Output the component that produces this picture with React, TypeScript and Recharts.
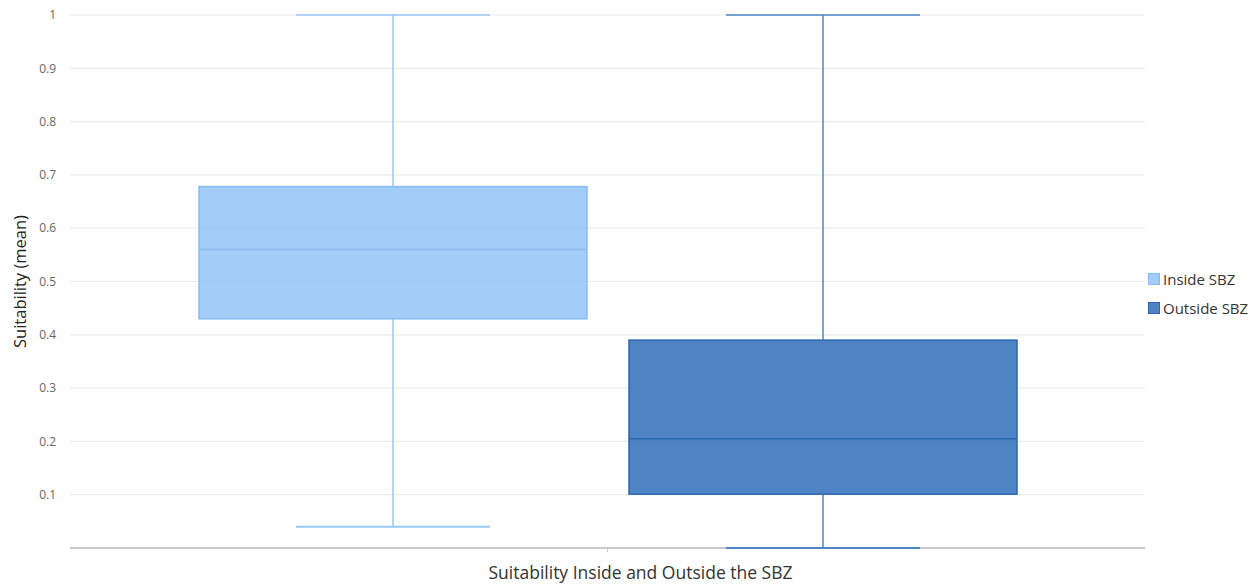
import React from 'react';
import { ComposedChart, Bar, XAxis, YAxis, CartesianGrid, Legend } from 'recharts';

const categories = ['Suitability Inside and Outside the SBZ'];
const seriesNames = ['Inside SBZ', 'Outside SBZ'];
const seriesKeys = ['inside', 'outside'];
const mins = [0.04, 0];
const q1s = [0.43, 0.101];
const medians = [0.56, 0.205];
const q3s = [0.678, 0.39];
const maxs = [1, 1];
const yTicks = [0.1, 0.2, 0.3, 0.4, 0.5, 0.6, 0.7, 0.8, 0.9, 1];

const fills = ['#8cc0f7', '#2f6fb8'];
const fillOpacity = [0.8, 0.85];
const strokes = ['#88baf3', '#2a66b1'];
const whiskerColors = ['#98c6f6', '#4d85c6'];
const legendFills = ['#a3cdf9', '#4e82c2'];

const data = categories.map((name) => {
  const row: any = { name };
  seriesKeys.forEach((k, i) => {
    row[k] = [q1s[i], q3s[i]];
  });
  return row;
});

const makeBox = (i: number) => (props: any) => {
  const { x, y, width, height } = props;
  if (x == null || y == null) return null;
  const top = Math.min(y, y + height);
  const h = Math.abs(height);
  const pxPer = h / (q3s[i] - q1s[i]);
  const py = (v: number) => top + (q3s[i] - v) * pxPer;
  const cx = x + width / 2;
  const capHalf = width / 4;
  const wc = whiskerColors[i];
  return (
    <g>
      <line x1={cx} x2={cx} y1={py(maxs[i])} y2={py(q3s[i])} stroke={wc} strokeWidth={1.5} />
      <line x1={cx} x2={cx} y1={py(q1s[i])} y2={py(mins[i])} stroke={wc} strokeWidth={1.5} />
      <line x1={cx - capHalf} x2={cx + capHalf} y1={py(maxs[i])} y2={py(maxs[i])} stroke={wc} strokeWidth={1.5} />
      <line x1={cx - capHalf} x2={cx + capHalf} y1={py(mins[i])} y2={py(mins[i])} stroke={wc} strokeWidth={2} />
      <rect x={x} y={top} width={width} height={h} fill={fills[i]} fillOpacity={fillOpacity[i]} stroke={strokes[i]} strokeWidth={1.5} />
      <line x1={x} x2={x + width} y1={py(medians[i])} y2={py(medians[i])} stroke={strokes[i]} strokeWidth={1.5} />
    </g>
  );
};

const LegendContent = () => (
  <div style={{ fontFamily: '"Open Sans", sans-serif', fontSize: 15, color: '#333' }}>
    {seriesNames.map((n, i) => (
      <div key={n} style={{ display: 'flex', alignItems: 'center', height: 29 }}>
        <span
          style={{
            display: 'inline-block',
            width: 10,
            height: 10,
            background: legendFills[i],
            border: `1px solid ${strokes[i]}`,
            marginRight: 3,
          }}
        />
        <span>{n}</span>
      </div>
    ))}
  </div>
);

export default function App() {
  return (
    <div style={{ margin: '-8px 0 0 -8px', width: 1260, height: 585, background: '#fff' }}>
      <ComposedChart
        width={1260}
        height={585}
        data={data}
        margin={{ top: 15, right: 115, left: 0, bottom: 0 }}
        barCategoryGap="12%"
        barGap={42}
      >
        <CartesianGrid vertical={false} stroke="#ececec" strokeWidth={1.2} />
        <XAxis
          dataKey="name"
          height={37}
          axisLine={{ stroke: '#c8c8c8', strokeWidth: 2 }}
          tickLine={{ stroke: '#c8c8c8' }}
          tickSize={4}
          tickFormatter={() => ''}
          label={{
            value: categories[0],
            position: 'insideBottom',
            offset: 6,
            dx: 33,
            style: { fontFamily: '"Open Sans", sans-serif', fontSize: 17.5, fill: '#333' },
          }}
        />
        <YAxis
          width={70}
          domain={[0, 1]}
          ticks={yTicks}
          axisLine={false}
          tickLine={false}
          tickMargin={8}
          tick={{ fontFamily: '"Open Sans", sans-serif', fontSize: 12, fill: '#666' }}
          label={{
            value: 'Suitability (mean)',
            angle: -90,
            position: 'insideLeft',
            offset: 20,
            style: { textAnchor: 'middle', fontFamily: '"Open Sans", sans-serif', fontSize: 16.5, fill: '#222' },
          }}
        />
        <Legend
          layout="vertical"
          align="center"
          verticalAlign="middle"
          content={<LegendContent />}
          wrapperStyle={{ left: 1148, top: 264, width: 112 }}
        />
        {seriesKeys.map((k, i) => (
          <Bar
            key={k}
            dataKey={k}
            name={seriesNames[i]}
            shape={makeBox(i)}
            isAnimationActive={false}
            fill={fills[i]}
            zIndex={700}
          />
        ))}
      </ComposedChart>
    </div>
  );
}
